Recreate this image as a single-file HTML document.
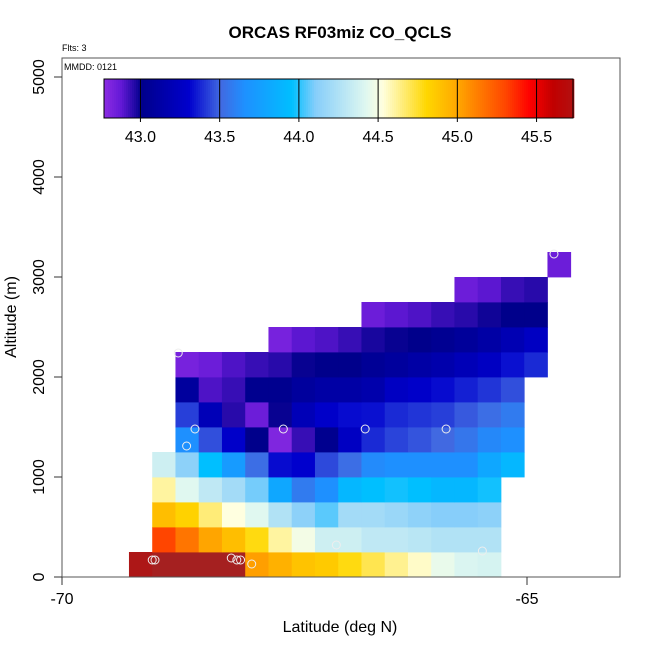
<!DOCTYPE html>
<html><head><meta charset="utf-8"><style>
body{margin:0;background:#fff;}
svg{font-family:"Liberation Sans",sans-serif;}
</style></head><body>
<svg id="c" width="650" height="650" xmlns="http://www.w3.org/2000/svg">
<text x="340" y="38" text-anchor="middle" font-size="17" font-weight="bold">ORCAS RF03miz CO_QCLS</text>
<text x="62" y="51" font-size="9">Flts: 3</text>
<g id="cells"></g>
<g id="pts"></g>
<rect x="62" y="58" width="558" height="519" fill="none" stroke="#555" stroke-width="1"/>
<text x="64" y="70" font-size="9">MMDD: 0121</text>
<g id="cbar"></g>
<g id="axes"></g>
<text x="340" y="632" text-anchor="middle" font-size="16">Latitude (deg N)</text>
<text transform="translate(16,317) rotate(-90)" text-anchor="middle" font-size="16">Altitude (m)</text>
</svg>
<script>
// ---- data ----
const latStart = -69.28;      // lat of col 0
const latStep = 0.25;
const altStep = 250;
// each row: [rowIndex (alt bin), firstColumn, values...]
const row0 = [0, 0, 45.78,45.85,45.85,45.85,45.85,45.02,44.95,44.88,44.85,44.78,44.7,44.62,44.55,44.45,44.4,44.38];
const row1 = [1, 1, 45.3,45.15,45.0,44.9,44.78,44.6,44.48,44.35,44.35,44.3,44.3,44.28,44.25,44.25,44.25];
const row2 = [2, 1, 44.9,44.82,44.65,44.52,44.42,44.25,44.12,44.05,44.2,44.2,44.17,44.13,44.1,44.1,44.12];
const row3 = [3, 1, 44.6,44.42,44.3,44.2,44.08,43.8,43.57,43.65,43.9,43.95,43.97,43.95,43.9,43.9,43.97];
const row4 = [4, 1, 44.35,44.12,43.95,43.72,43.52,43.32,43.3,43.44,43.52,43.63,43.65,43.65,43.65,43.65,43.8,43.9];
const row5 = [5, 2, 43.65,43.45,43.28,43.0,42.8,42.93,43.02,43.25,43.38,43.43,43.46,43.5,43.55,43.62,43.65];
const row6 = [6, 2, 43.42,43.2,42.95,42.85,42.99,43.2,43.28,43.32,43.33,43.38,43.4,43.42,43.47,43.52,43.57];
const row7 = [7, 2, 43.08,42.9,42.93,43.02,43.02,43.08,43.12,43.12,43.15,43.25,43.28,43.32,43.36,43.4,43.45];
const row8 = [8, 2, 42.82,42.85,42.9,42.93,42.95,42.99,43.0,43.0,43.05,43.08,43.12,43.15,43.2,43.25,43.33,43.38];
const row9 = [9, 6, 42.82,42.88,42.9,42.93,42.97,42.99,43.0,43.03,43.07,43.12,43.18,43.25];
const row10 = [10, 10, 42.85,42.88,42.9,42.93,42.95,42.98,43.0,43.0];
const row11 = [11, 14, 42.85,42.88,42.93,42.95];
const row12 = [12, 18, 42.85];
const pointLat = [-69.03,-69.0,-68.18,-68.12,-68.08,-67.96,-67.05,-65.48,-68.75,-68.66,-68.57,-67.62,-66.74,-65.87,-64.71];
const pointAlt = [170,170,190,170,170,130,320,260,2240,1310,1480,1480,1480,1480,3230];
const xTicks = [-70,-65];
const yTicks = [0,1000,2000,3000,4000,5000];
const cbTicks = [43.0,43.5,44.0,44.5,45.0,45.5];
const cbMin = 42.77, cbMax = 45.73;
// ---- scales ----
const X0=62, X1=620, Y0=577, Y1=58;
const xs = v => 62 + (v + 70) * 93;
const ys = v => 577 - v * 0.1;
const stops = [[42.77,[138,43,226]],[42.87,[100,25,215]],[42.95,[40,10,170]],[43.0,[0,0,139]],[43.3,[0,0,205]],[43.5,[65,105,225]],[43.65,[30,144,255]],[43.95,[0,191,255]],[44.1,[135,206,250]],[44.42,[224,248,240]],[44.52,[255,255,224]],[44.8,[255,215,0]],[45.0,[255,165,0]],[45.3,[255,69,0]],[45.45,[255,0,0]],[45.6,[192,0,0]],[45.85,[165,32,32]]];
function col(v){
  if(v<=stops[0][0]) return rgb(stops[0][1]);
  for(let i=1;i<stops.length;i++){
    if(v<=stops[i][0]){const a=stops[i-1],b=stops[i];const t=(v-a[0])/(b[0]-a[0]);
      return rgb(a[1].map((c,k)=>Math.round(c+(b[1][k]-c)*t)));}
  }
  return rgb(stops[stops.length-1][1]);
}
function rgb(a){return 'rgb('+a.join(',')+')';}
const NS='http://www.w3.org/2000/svg';
function mk(t,attrs,parent){const e=document.createElementNS(NS,t);for(const k in attrs)e.setAttribute(k,attrs[k]);parent.appendChild(e);return e;}
const cells=document.getElementById('cells');
[row0,row1,row2,row3,row4,row5,row6,row7,row8,row9,row10,row11,row12].forEach(r=>{
  const ri=r[0], c0=r[1];
  for(let i=2;i<r.length;i++){
    const lat=latStart+(c0+i-2)*latStep;
    const x=xs(lat), x2=xs(lat+latStep), y=ys((ri+1)*altStep), y2=ys(ri*altStep);
    const e=mk('rect',{x:x,y:y,width:x2-x+0.4,height:y2-y+0.4,fill:col(r[i])},cells);
    
    
  }
});
const pts=document.getElementById('pts');
pointLat.forEach((la,i)=>{
  const e=mk('circle',{cx:xs(la),cy:ys(pointAlt[i]),r:4,fill:'none',stroke:'#eee','stroke-width':1},pts);
  
  
});
// colorbar
const cb=document.getElementById('cbar');
const bx0=104,bx1=573,by0=79,by1=118;
const cbx=v=>bx0+(v-cbMin)/(cbMax-cbMin)*(bx1-bx0);
for(let x=bx0;x<bx1;x+=2){
  const v=cbMin+(x-bx0)/(bx1-bx0)*(cbMax-cbMin);
  const e=mk('rect',{x:x,y:by0,width:2.3,height:by1-by0,fill:col(v)},cb);
  
  
}
mk('rect',{x:bx0,y:by0,width:bx1-bx0,height:by1-by0,fill:'none',stroke:'#000','stroke-width':1},cb);
cbTicks.forEach(t=>{
  const x=cbx(t);
  mk('line',{x1:x,x2:x,y1:by0,y2:by1+4,stroke:'#000','stroke-width':1},cb);
  const e=mk('text',{x:x,y:142,'text-anchor':'middle','font-size':16},cb);
  e.textContent=t.toFixed(1);
  
  
});
// axes
const ax=document.getElementById('axes');
xTicks.forEach(t=>{
  const x=xs(t);
  mk('line',{x1:x,x2:x,y1:577,y2:585,stroke:'#333'},ax);
  const e=mk('text',{x:x,y:604,'text-anchor':'middle','font-size':16},ax);
  e.textContent=t;
  
  
});
yTicks.forEach(t=>{
  const y=ys(t);
  mk('line',{x1:54,x2:62,y1:y,y2:y,stroke:'#333'},ax);
  const e=mk('text',{transform:'translate(44,'+y+') rotate(-90)','text-anchor':'middle','font-size':16},ax);
  e.textContent=t;
  
  
});
</script>
</body></html>
